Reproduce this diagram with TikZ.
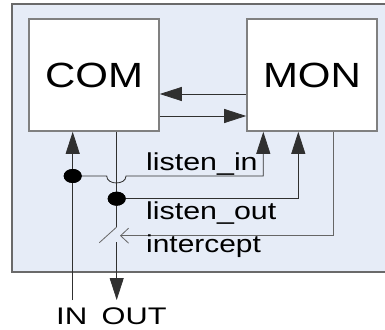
\documentclass[tikz,border=0pt]{standalone}
\usepackage{fontspec}
\setmainfont{Liberation Sans}
\usetikzlibrary{arrows.meta,shapes.geometric}
\definecolor{bgblue}{HTML}{E6ECF7}
\definecolor{frame}{HTML}{6A6A6A}
\definecolor{boxline}{HTML}{808080}
\definecolor{wire}{HTML}{303030}
\definecolor{swire}{HTML}{666666}
\tikzset{
  block/.style={draw=boxline,line width=1.6pt,fill=white,minimum width=130pt,minimum height=112pt,inner sep=0pt},
  wireline/.style={draw=wire,line width=0.8pt},
  swline/.style={draw=swire,line width=0.8pt},
  tipped/.style={-{Triangle[length=22pt,width=14pt]}},
  junction/.style={ellipse,fill=black,minimum width=18pt,minimum height=14pt,inner sep=0pt},
  lbl/.style={anchor=base west,inner sep=0pt,font=\fontsize{24.5}{28}\selectfont},
  bigtxt/.style={inner sep=0pt,font=\fontsize{35}{40}\selectfont},
  iotxt/.style={anchor=base west,inner sep=0pt,font=\fontsize{24}{28}\selectfont}
}
\begin{document}
\begin{tikzpicture}[x=1pt,y=-1pt]
\useasboundingbox (0,0) rectangle (385,329);
\clip (0,0) rectangle (385,329);
% background panel
\draw[draw=frame,line width=1.3pt,fill=bgblue] (12,4) rectangle (400,272);
% blocks
\node[block] (COM) at (94,75) {};
\node[block] (MON) at (312,75) {};
\node[bigtxt] at (COM.center) {\scalebox{1.2}[1]{COM}};
\node[bigtxt] at (MON.center) {\scalebox{1.2}[1]{MON}};
% junctions and coordinates
\node[junction] (dIN) at (72.7,176) {};
\node[junction] (dOUT) at (116.7,198.7) {};
\coordinate (inE) at (72.7,300);
\coordinate (outE) at (116.7,300);
\coordinate (hopL) at (106.7,176);
\coordinate (hopR) at (126,176);
\coordinate (liC) at (263.3,176);
\coordinate (loC) at (298.3,198.7);
\coordinate (icC) at (333.3,235.7);
\coordinate (swT) at (116.7,227);
\coordinate (swB) at (116.7,242.3);
\coordinate (swL) at (99.3,242.7);
\coordinate (swTip) at (120,235.7);
% horizontal arrows between blocks
\draw[wireline,tipped] (MON.west |- 0,94) -- (COM.east |- 0,94);
\draw[wireline,tipped] (COM.east |- 0,116) -- (MON.west |- 0,116);
% IN
\draw[wireline,tipped] (inE) -- (inE |- COM.south);
% OUT with switch
\draw[wireline] (COM.south -| swT) -- (swT);
\draw[swline] (swT) -- (swL);
\draw[wireline,tipped] (swB) -- (outE);
% listen_in
\draw[wireline,tipped] (dIN.center) -- (hopL) .. controls (106.7,185.3) and (126,185.3) .. (hopR) -- (liC) -- (liC |- MON.south);
% listen_out
\draw[wireline,tipped] (dOUT.center) -- (loC) -- (loC |- MON.south);
% intercept
\draw[swline,-{Straight Barb[length=8pt,width=15pt]}] (icC |- MON.south) -- (icC) -- (swTip);
% junction dots on top
\node[junction] at (dIN) {};
\node[junction] at (dOUT) {};
% labels
\node[lbl] (tLI) at (146,170) {\scalebox{1.24}[1]{listen\_in}};
\node[lbl] (tLO) at (146,219) {\scalebox{1.24}[1]{listen\_out}};
\node[lbl] (tIC) at (146,252.5) {\scalebox{1.22}[1]{intercept}};
\node[iotxt] (tIN) at (56,324) {\scalebox{1.3}[1]{IN}};
\node[iotxt] (tOUT) at (101.5,324) {\scalebox{1.28}[1]{OUT}};
\end{tikzpicture}
\end{document}
